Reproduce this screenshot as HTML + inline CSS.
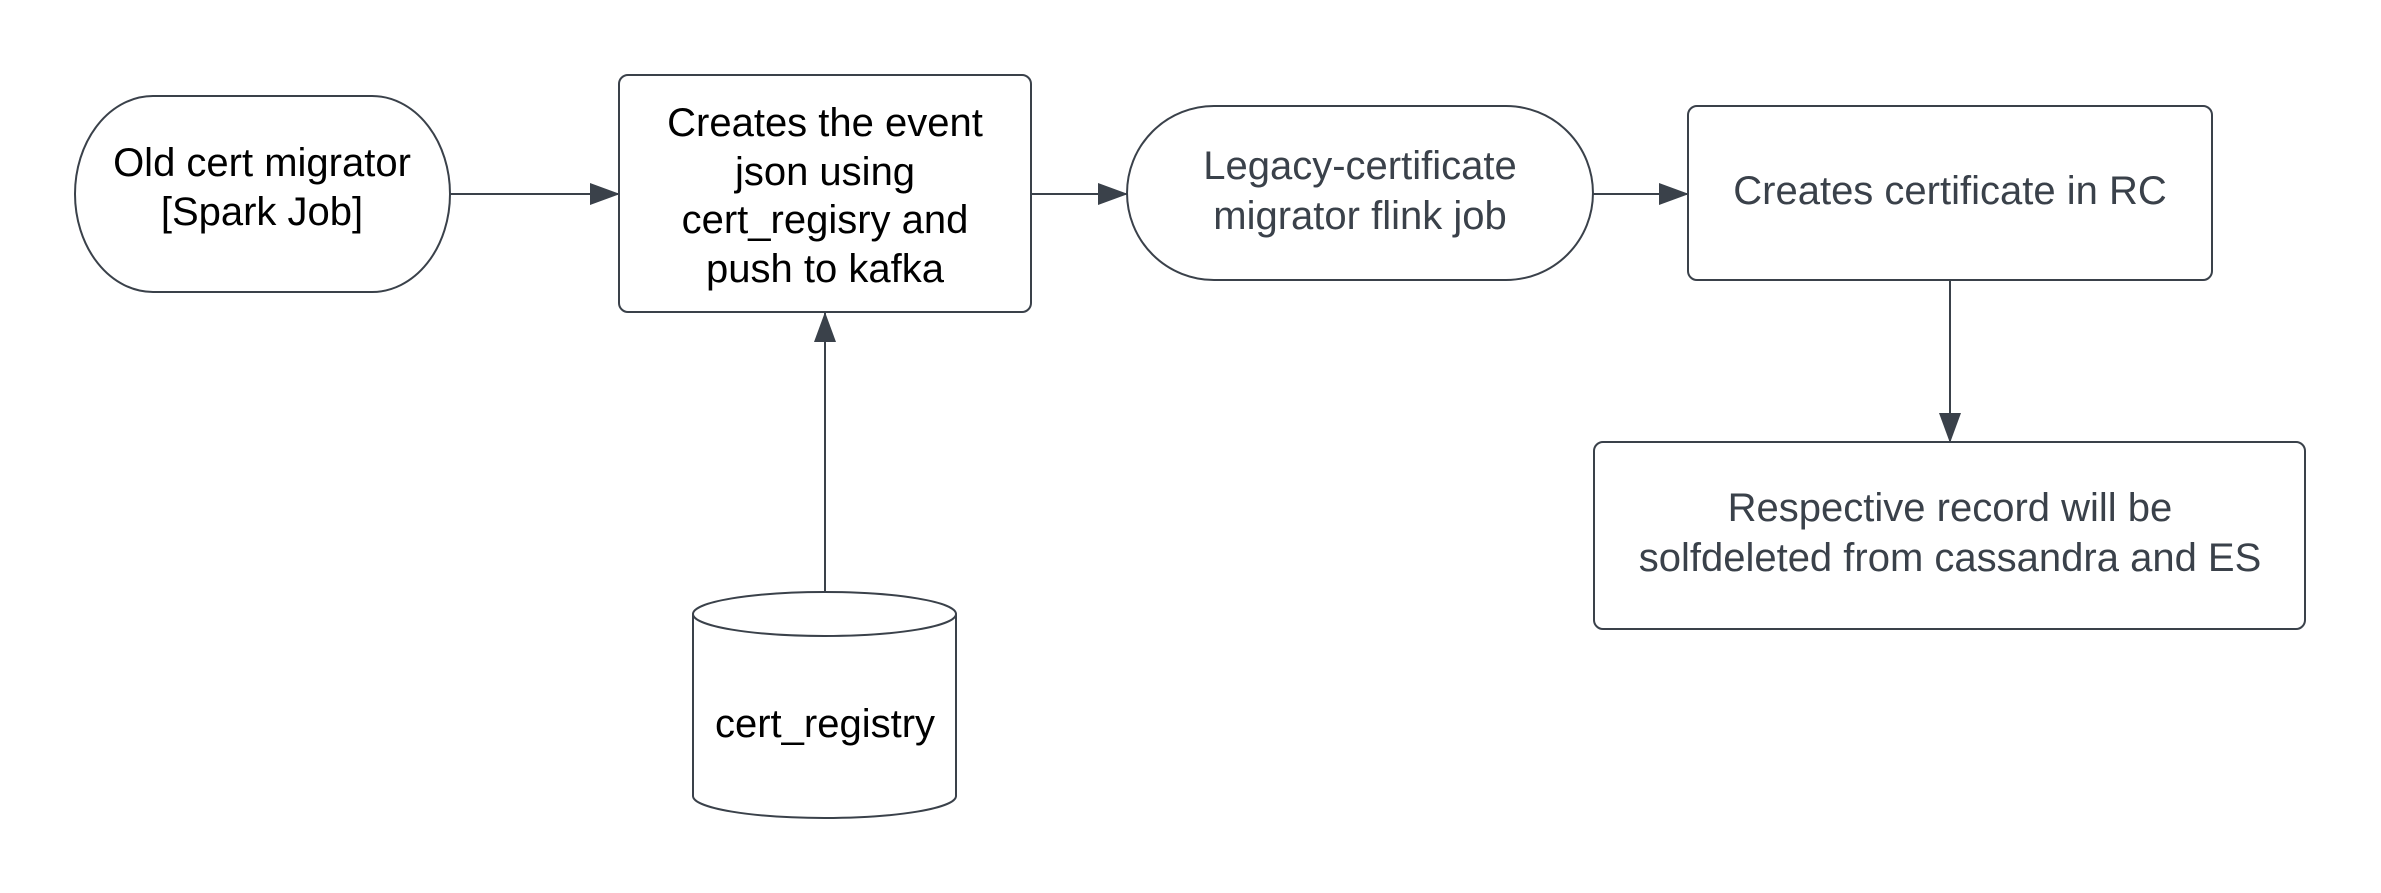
<!DOCTYPE html>
<html><head><meta charset="utf-8"><style>
html,body{margin:0;padding:0;background:#fff;width:2381px;height:893px;overflow:hidden}
</style></head><body>
<svg width="2381" height="893" viewBox="0 0 2381 893" xmlns="http://www.w3.org/2000/svg" font-family="Liberation Sans, Arial, sans-serif" font-size="40">
<defs>
<marker id="ah" markerWidth="30" markerHeight="22" refX="29" refY="11" orient="auto" markerUnits="userSpaceOnUse">
<path d="M0,0 L30,11 L0,22 Z" fill="#3a414a"/>
</marker>
</defs>
<g fill="none" stroke="#3a414a" stroke-width="2">
<!-- stadium 1 -->
<path d="M153,96 L372,96 A78,98 0 0 1 372,292 L153,292 A78,98 0 0 1 153,96 Z" fill="#fff"/>
<!-- box 2 -->
<rect x="619" y="75" width="412" height="237" rx="9" fill="#fff"/>
<!-- stadium 3 -->
<path d="M1214,106 L1506,106 A87,87 0 0 1 1506,280 L1214,280 A87,87 0 0 1 1214,106 Z" fill="#fff"/>
<!-- box 4 -->
<rect x="1688" y="106" width="524" height="174" rx="9" fill="#fff"/>
<!-- box 5 -->
<rect x="1594" y="442" width="711" height="187" rx="9" fill="#fff"/>
<!-- cylinder -->
<path d="M693,614 L693,796 A131.5,22 0 0 0 956,796 L956,614" fill="#fff"/>
<ellipse cx="824.5" cy="614" rx="131.5" ry="22" fill="#fff"/>
<!-- arrows -->
<line x1="450" y1="194" x2="619" y2="194" marker-end="url(#ah)"/>
<line x1="1031" y1="194" x2="1127" y2="194" marker-end="url(#ah)"/>
<line x1="1593" y1="194" x2="1688" y2="194" marker-end="url(#ah)"/>
<line x1="825" y1="592" x2="825" y2="313" marker-end="url(#ah)"/>
<line x1="1950" y1="280" x2="1950" y2="442" marker-end="url(#ah)"/>
</g>
<g text-anchor="middle" fill="#000">
<text x="262" y="176">Old cert migrator</text>
<text x="262" y="225">[Spark Job]</text>
<text x="825" y="136">Creates the event</text>
<text x="825" y="185">json using</text>
<text x="825" y="233">cert_regisry and</text>
<text x="825" y="282">push to kafka</text>
<text x="825" y="737">cert_registry</text>
</g>
<g text-anchor="middle" fill="#3a414a">
<text x="1360" y="179">Legacy-certificate</text>
<text x="1360" y="229">migrator flink job</text>
<text x="1950" y="204">Creates certificate in RC</text>
<text x="1950" y="521">Respective record will be</text>
<text x="1950" y="571">solfdeleted from cassandra and ES</text>
</g>
</svg>
</body></html>
